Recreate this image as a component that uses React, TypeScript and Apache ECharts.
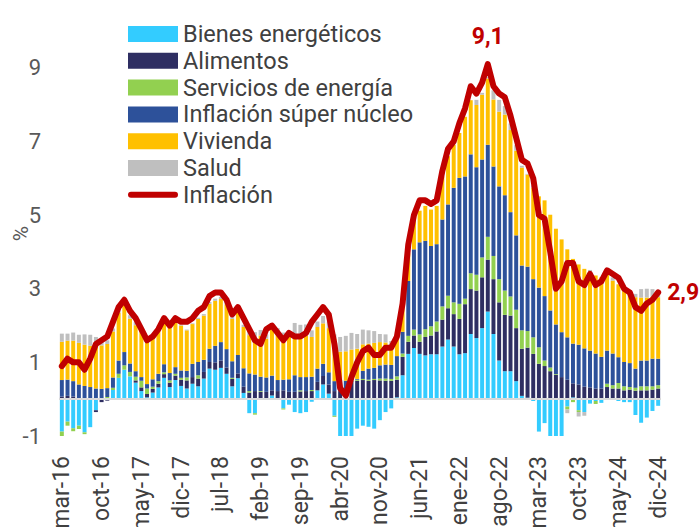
import React, { useEffect, useRef } from "react";
import * as echarts from "echarts";

const monthNames = ["ene", "feb", "mar", "abr", "may", "jun", "jul", "ago", "sep", "oct", "nov", "dic"];
const categories: string[] = [];
for (let y = 2016; y <= 2024; y++) {
  for (let m = 0; m < 12; m++) {
    if (y === 2016 && m < 2) continue;
    categories.push(`${monthNames[m]}-${String(y).slice(2)}`);
  }
}

// Bienes energéticos
const energia = [
  -0.88, -0.61, -0.79, -0.72, -0.90, -0.76, -0.30, -0.02, 0.0, 0.25,
  0.58, 0.80, 0.62, 0.45, 0.22, 0.05, 0.18, 0.32, 0.58, 0.33, 0.52, 0.36,
  0.29, 0.42, 0.35, 0.56, 0.83, 0.80, 0.85, 0.69, 0.35, 0.57, 0.17, -0.38,
  -0.38, -0.02, 0.0, 0.10, 0.0, -0.25, -0.15, -0.35, -0.38, -0.35, -0.07, 0.24,
  0.40, 0.15, -0.45, -1.25, -1.30, -1.00, -0.80, -0.72, -0.75, -0.80, -0.57, -0.35,
  -0.25, 0.05, 0.65, 1.23, 1.39, 1.23, 1.19, 1.22, 1.22, 1.43, 1.62, 1.43,
  1.22, 1.25, 1.77, 1.66, 1.93, 2.38, 1.77, 1.05, 0.76, 0.76, 0.49, 0.09,
  0.04, -0.05, -0.88, -0.65, -1.05, -1.15, -1.05, -0.20, 0.05, -0.30, -0.35, -0.12,
  -0.05, -0.10, 0.0, 0.03, -0.05, -0.08, -0.08, -0.43, -0.64, -0.50, -0.32, -0.18,
];
// Alimentos
const alimentos = [
  0.07, 0.09, 0.07, 0.03, 0.01, 0.0, -0.05, -0.06, -0.04, -0.02,
  0.0, 0.0, 0.0, 0.06, 0.10, 0.09, 0.10, 0.10, 0.10, 0.12, 0.12, 0.17,
  0.22, 0.18, 0.21, 0.18, 0.18, 0.20, 0.20, 0.17, 0.20, 0.13, 0.17, 0.18,
  0.22, 0.20, 0.20, 0.14, 0.22, 0.24, 0.20, 0.20, 0.21, 0.22, 0.22, 0.23,
  0.23, 0.25, 0.22, 0.22, 0.30, 0.50, 0.50, 0.52, 0.50, 0.52, 0.51, 0.50,
  0.50, 0.48, 0.50, 0.33, 0.34, 0.33, 0.50, 0.51, 0.62, 0.73, 0.85, 0.88,
  0.96, 1.33, 1.22, 1.29, 1.38, 1.41, 1.49, 1.58, 1.53, 1.51, 1.44, 1.28,
  1.36, 1.23, 0.96, 0.90, 0.76, 0.66, 0.60, 0.53, 0.38, 0.40, 0.34, 0.32,
  0.29, 0.29, 0.33, 0.26, 0.29, 0.24, 0.26, 0.23, 0.24, 0.24, 0.26, 0.29,
];
// Servicios de energía
const serviciosEnergia = [
  -0.13, -0.11, -0.08, -0.09, -0.05, 0.0, 0.0, 0.0, 0.06, 0.06,
  0.11, 0.12, 0.12, 0.10, 0.18, 0.15, 0.06, 0.07, 0.05, 0.06, 0.05, 0.05,
  0.08, 0.0, 0.09, 0.0, 0.0, 0.0, 0.0, 0.0, 0.03, 0.0, 0.0, 0.04,
  -0.04, 0.02, 0.0, 0.0, 0.0, -0.03, 0.0, 0.0, 0.03, 0.0, 0.03, 0.0,
  0.0, 0.0, -0.03, 0.0, 0.0, 0.02, 0.03, 0.03, 0.03, 0.03, 0.05, 0.06,
  0.05, 0.09, 0.09, 0.16, 0.16, 0.20, 0.21, 0.25, 0.27, 0.36, 0.34, 0.32,
  0.41, 0.15, 0.43, 0.43, 0.54, 0.62, 0.63, 0.63, 0.66, 0.52, 0.50, 0.50,
  0.45, 0.45, 0.45, 0.15, 0.10, 0.02, 0.0, -0.08, -0.08, -0.05, 0.0, 0.0,
  -0.08, 0.0, 0.09, 0.09, 0.15, 0.11, 0.07, 0.08, 0.11, 0.11, 0.09, 0.09,
];
// Inflación súper núcleo
const superNucleo = [
  0.45, 0.44, 0.42, 0.37, 0.35, 0.33, 0.29, 0.28, 0.24, 0.28,
  0.36, 0.36, 0.23, 0.15, 0.10, 0.12, 0.20, 0.20, 0.22, 0.20, 0.18, 0.20,
  0.18, 0.36, 0.36, 0.33, 0.36, 0.45, 0.50, 0.50, 0.45, 0.50, 0.50, 0.48,
  0.45, 0.39, 0.39, 0.40, 0.30, 0.29, 0.34, 0.45, 0.36, 0.38, 0.36, 0.36,
  0.33, 0.33, 0.27, 0.30, 0.20, 0.03, 0.02, 0.22, 0.30, 0.30, 0.36, 0.38,
  0.38, 0.55, 0.59, 1.49, 2.18, 2.50, 2.40, 2.18, 2.10, 2.36, 2.48, 3.11,
  3.42, 3.32, 3.23, 2.92, 2.66, 2.50, 2.43, 2.52, 2.59, 2.29, 2.02, 1.76,
  1.75, 1.58, 1.62, 1.75, 1.55, 1.35, 1.22, 1.15, 1.08, 1.08, 1.04, 1.00,
  0.95, 0.86, 0.90, 0.86, 0.70, 0.66, 0.65, 0.52, 0.70, 0.70, 0.75, 0.72,
];
// Vivienda
const vivienda = [
  1.04, 1.06, 1.10, 1.13, 1.12, 1.12, 1.18, 1.18, 1.20, 1.25,
  1.30, 1.30, 1.22, 1.25, 1.26, 1.20, 1.20, 1.22, 1.22, 1.23, 1.22, 1.22,
  1.10, 1.08, 1.17, 1.20, 1.22, 1.22, 1.17, 1.22, 1.15, 1.20, 1.12, 1.04,
  1.00, 1.12, 1.05, 1.30, 1.35, 1.15, 1.15, 1.10, 1.10, 1.13, 1.08, 1.13,
  1.10, 1.20, 1.15, 0.77, 0.80, 0.80, 0.82, 0.72, 0.68, 0.68, 0.63, 0.60,
  0.55, 0.55, 0.75, 0.75, 0.80, 0.86, 0.95, 0.99, 1.04, 1.17, 1.31, 1.17,
  1.22, 1.62, 1.47, 1.69, 1.76, 1.80, 1.82, 2.03, 2.19, 2.23, 2.30, 2.66,
  2.50, 2.48, 2.48, 2.60, 2.60, 2.60, 2.52, 2.39, 2.30, 2.18, 2.16, 2.12,
  2.12, 2.16, 2.11, 1.98, 1.98, 1.94, 1.87, 1.94, 1.71, 1.71, 1.68, 1.67,
];
// Salud
const salud = [
  0.22, 0.19, 0.22, 0.22, 0.28, 0.30, 0.22, 0.15, 0.10, 0.08,
  0.05, 0.04, 0.09, 0.08, 0.05, 0.03, 0.02, 0.02, 0.03, 0.03, 0.02, 0.02,
  0.02, 0.02, 0.03, 0.04, 0.05, 0.06, 0.06, 0.06, 0.05, 0.05, 0.06, 0.15,
  0.15, 0.15, 0.12, 0.05, 0.06, 0.13, 0.12, 0.32, 0.32, 0.30, 0.18, 0.15,
  0.20, 0.18, 0.12, 0.40, 0.42, 0.45, 0.40, 0.40, 0.36, 0.32, 0.22, 0.22,
  0.10, 0.10, 0.05, 0.0, 0.0, 0.0, 0.0, 0.0, 0.0, 0.0, 0.0, 0.0,
  0.0, 0.0, 0.0, 0.14, 0.05, 0.05, 0.25, 0.32, 0.23, 0.18, 0.15, 0.05,
  0.02, 0.07, 0.0, 0.0, 0.0, 0.0, 0.0, -0.10, 0.0, -0.12, -0.10, 0.07,
  0.0, 0.0, 0.0, 0.09, 0.0, 0.0, 0.11, 0.09, 0.23, 0.24, 0.21, 0.18,
];
// Inflación
const inflacion = [
  0.9, 1.1, 1.0, 1.0, 0.8, 1.1, 1.5, 1.6, 1.7, 2.1,
  2.5, 2.7, 2.4, 2.2, 1.9, 1.6, 1.7, 1.9, 2.2, 2.0, 2.2, 2.1,
  2.1, 2.2, 2.4, 2.5, 2.8, 2.9, 2.9, 2.7, 2.3, 2.5, 2.2, 1.9,
  1.6, 1.5, 1.9, 2.0, 1.8, 1.6, 1.8, 1.7, 1.7, 1.8, 2.1, 2.3,
  2.5, 2.3, 1.5, 0.3, 0.1, 0.6, 1.0, 1.3, 1.4, 1.2, 1.2, 1.4,
  1.4, 1.7, 2.6, 4.2, 5.0, 5.4, 5.4, 5.3, 5.4, 6.2, 6.8, 7.0,
  7.5, 7.9, 8.5, 8.3, 8.6, 9.1, 8.5, 8.3, 8.2, 7.7, 7.1, 6.5,
  6.4, 6.0, 5.0, 4.9, 4.0, 3.0, 3.2, 3.7, 3.7, 3.2, 3.1, 3.4,
  3.1, 3.2, 3.5, 3.4, 3.3, 3.0, 2.9, 2.5, 2.4, 2.6, 2.7, 2.9,
];

const FONT = "Roboto, 'Noto Sans', sans-serif";
const fmtComma = (v: number) => String(v).replace(".", ",");

export default function App() {
  const ref = useRef<HTMLDivElement>(null);
  useEffect(() => {
    if (!ref.current) return;
    const chart = echarts.init(ref.current, undefined, { renderer: "svg" });
    const lastIdx = inflacion.length - 1;
    const bar = (name: string, data: number[], color: string, extra: any = {}) => ({
      name,
      type: "bar",
      stack: "total",
      data,
      barWidth: "70%",
      itemStyle: { color },
      ...extra,
    });
    chart.setOption({
      animation: false,
      textStyle: { fontFamily: FONT },
      grid: { left: 59, right: 39, top: 31, bottom: 91, containLabel: false, outerBoundsMode: "none" },
      legend: {
        orient: "vertical",
        left: 123,
        top: 17,
        itemWidth: 50,
        itemHeight: 16,
        itemGap: 2.8,
        textStyle: { fontSize: 23.5, color: "#404040", fontFamily: FONT },
        data: [
          { name: "Bienes energéticos", icon: "rect" },
          { name: "Alimentos", icon: "rect" },
          { name: "Servicios de energía", icon: "rect" },
          { name: "Inflación súper núcleo", icon: "rect" },
          { name: "Vivienda", icon: "rect" },
          { name: "Salud", icon: "rect" },
          {
            name: "Inflación",
            icon: "path://M3,0 L47,0 A3,3 0 0 1 47,6 L3,6 A3,3 0 0 1 3,0 Z",
            itemStyle: { color: "#C00000" },
          },
        ],
      },
      xAxis: {
        type: "category",
        data: categories,
        axisLine: { show: false, onZero: false },
        axisTick: { show: false },
        axisLabel: { interval: 6, rotate: 90, fontSize: 23, color: "#404040", margin: 20, fontFamily: FONT },
        splitLine: { show: false },
      },
      yAxis: {
        type: "value",
        min: -1,
        max: 10,
        interval: 2,
        name: "%",
        nameLocation: "middle",
        nameGap: 28,
        nameMoveOverlap: false,
        nameTextStyle: { fontSize: 21, color: "#595959", fontFamily: FONT },
        axisLine: { show: false },
        axisTick: { show: false },
        splitLine: { show: false },
        axisLabel: {
          fontSize: 22,
          color: "#595959",
          margin: 18,
          showMaxLabel: false,
          fontFamily: FONT,
          formatter: (v: number) => (v > 9.5 ? "" : String(v)),
        },
      },
      series: [
        bar("Bienes energéticos", energia, "#33CCFF", {
          markLine: {
            silent: true,
            symbol: "none",
            label: { show: false },
            lineStyle: { color: "#D9D9D9", width: 2, type: "solid" },
            data: [{ yAxis: 0 }],
          },
        }),
        bar("Alimentos", alimentos, "#2E2E62"),
        bar("Servicios de energía", serviciosEnergia, "#92D050"),
        bar("Inflación súper núcleo", superNucleo, "#2D519A"),
        bar("Vivienda", vivienda, "#FFC000"),
        bar("Salud", salud, "#BFBFBF"),
        {
          name: "Inflación",
          type: "line",
          data: inflacion,
          z: 10,
          symbol: "none",
          itemStyle: { color: "#C00000" },
          lineStyle: { color: "#C00000", width: 6, join: "round", cap: "round" },
          markPoint: {
            silent: true,
            symbol: "circle",
            symbolSize: 0,
            label: {
              show: true,
              color: "#C00000",
              fontSize: 23,
              fontWeight: "bold",
              fontFamily: FONT,
              formatter: (p: any) => fmtComma(p.value),
            },
            data: [
              { type: "max", label: { position: "top", distance: 16 } },
              { coord: [lastIdx, inflacion[lastIdx]], value: inflacion[lastIdx], label: { position: "right", distance: 9 } },
            ],
          },
        },
      ],
    });
    return () => chart.dispose();
  }, []);
  return <div ref={ref} style={{ position: "absolute", left: 0, top: 0, width: 700, height: 527 }} />;
}
